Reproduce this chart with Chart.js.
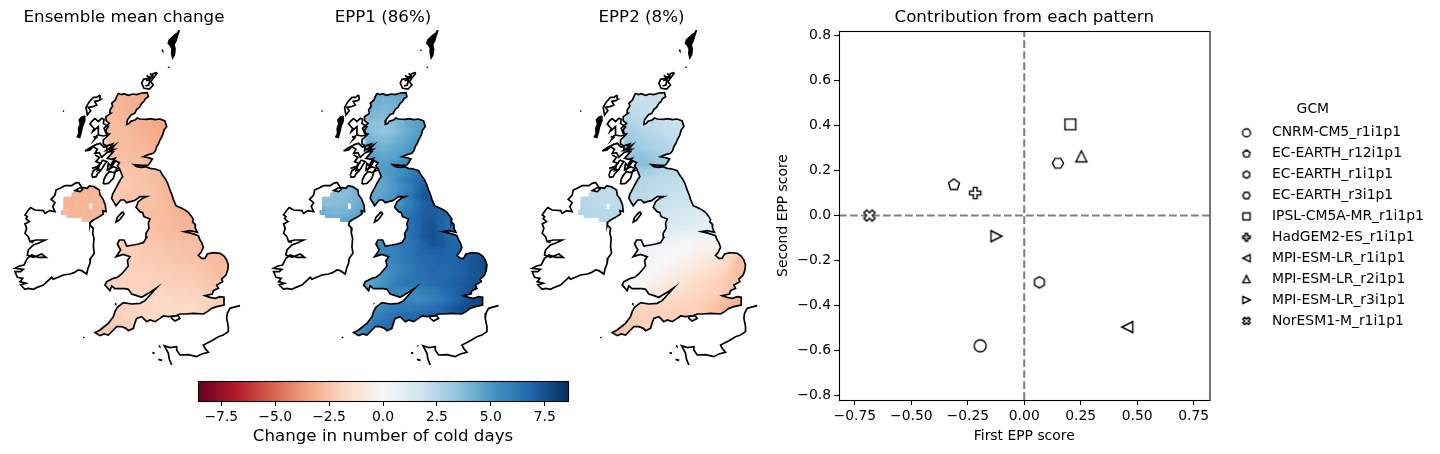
<!DOCTYPE html>
<html>
<head>
<meta charset="utf-8">
<title>Cold days EPP</title>
<script src="https://cdn.jsdelivr.net/npm/chart.js@4/dist/chart.umd.js"></script>
<style>
html, body { margin: 0; padding: 0; background: #fff; overflow: hidden; }
#page { position: relative; width: 1440px; height: 454px; overflow: hidden; }
canvas { position: absolute; }
</style>
</head>
<body>
<div id="page">
<canvas id="map1" style="left:0;top:0" width="248" height="370"></canvas>
<canvas id="map2" style="left:258px;top:0" width="250" height="370"></canvas>
<canvas id="map3" style="left:516px;top:0" width="251" height="370"></canvas>
<canvas id="cbar" style="left:180px;top:370px" width="410" height="84"></canvas>
<canvas id="scores" style="left:770px;top:0" width="670" height="454"></canvas>
</div>
<script>
// scatter values
const gcm_names = ["CNRM-CM5_r1i1p1", "EC-EARTH_r12i1p1", "EC-EARTH_r1i1p1", "EC-EARTH_r3i1p1", "IPSL-CM5A-MR_r1i1p1",
    "HadGEM2-ES_r1i1p1", "MPI-ESM-LR_r1i1p1", "MPI-ESM-LR_r2i1p1", "MPI-ESM-LR_r3i1p1", "NorESM1-M_r1i1p1"]
const first_score = [-0.195, -0.311, 0.067, 0.149, 0.204, -0.217, 0.456, 0.253, -0.123, -0.685]
const second_score = [-0.579, 0.137, -0.297, 0.232, 0.405, 0.100, -0.496, 0.263, -0.092, 0.000]
const gcm_markers = ["o", "p", "h", "H", "s", "P", "<", "^", ">", "X"]

const x_ticks = [-0.75, -0.5, -0.25, 0, 0.25, 0.5, 0.75]
const y_ticks = [-0.8, -0.6, -0.4, -0.2, 0, 0.2, 0.4, 0.6, 0.8]
const cbar_ticks = [-7.5, -5, -2.5, 0, 2.5, 5, 7.5]

const map_titles = ["Ensemble mean change", "EPP1 (86%)", "EPP2 (8%)"]
const rdbu_colors = ["#67001f", "#b2182b", "#d6604d", "#f4a582", "#fddbc7", "#f7f7f7", "#d1e5f0", "#92c5de", "#4393c3", "#2166ac", "#053061"]

// grid index of the first land column in each grid row of Great Britain
const gb_first_col = [7,6,6,6,6,6,6,5,6,6,7,6,6,6,7,9,10,11,10,7,7,8,7,6,5,9,8,7,6,5,4]

const mean_gb = [
[-3.0,-3.0,-3.1,-3.2,-3.2],
[-2.9,-2.9,-3.0,-3.1,-3.2],
[-2.8,-2.9,-3.0,-3.1],
[-2.8,-2.8,-2.9,-3.0,-3.1,-3.2,-3.3,-3.3],
[-2.7,-2.7,-2.8,-3.0,-3.1,-3.2,-3.3,-3.4],
[-2.7,-2.7,-2.7,-2.9,-3.0,-3.1,-3.2],
[-2.6,-2.7,-2.7,-2.8,-2.9,-3.0,-3.1],
[-2.6,-2.6,-2.6,-2.7,-2.8,-2.8,-2.9,-3.0],
[-2.6,-2.6,-2.6,-2.7,-2.7,-2.8],
[-2.5,-2.5,-2.5,-2.6,-2.7,-2.8],
[-2.3,-2.4,-2.4,-2.5,-2.6,-2.7],
[-2.3,-2.3,-2.3,-2.4,-2.5,-2.6,-2.7,-2.8],
[-2.3,-2.3,-2.3,-2.4,-2.4,-2.5,-2.7,-2.9],
[-2.3,-2.3,-2.4,-2.4,-2.4,-2.5,-2.6,-2.8,-3.0],
[-2.3,-2.3,-2.4,-2.5,-2.5,-2.6,-2.8,-3.0,-3.1],
[-2.5,-2.5,-2.6,-2.7,-2.8,-3.0,-3.1,-3.1],
[-2.5,-2.6,-2.6,-2.7,-2.8,-2.9,-3.0,-3.0],
[-2.5,-2.6,-2.7,-2.8,-2.9,-2.9,-2.9],
[-2.4,-2.5,-2.5,-2.6,-2.7,-2.8,-2.8,-2.8],
[-2.1,-2.1,-2.2,-2.3,-2.4,-2.4,-2.5,-2.5,-2.6,-2.6,-2.7],
[-2.0,-2.1,-2.1,-2.2,-2.3,-2.3,-2.4,-2.4,-2.5,-2.5,-2.6,-2.7,-2.8,-2.8],
[-2.1,-2.1,-2.2,-2.2,-2.3,-2.3,-2.4,-2.4,-2.5,-2.5,-2.6,-2.7,-2.8],
[-2.0,-2.0,-2.0,-2.1,-2.1,-2.2,-2.2,-2.2,-2.3,-2.3,-2.4,-2.5,-2.6,-2.7],
[-2.0,-2.0,-2.0,-2.0,-2.0,-2.0,-2.1,-2.1,-2.2,-2.2,-2.2,-2.3,-2.4,-2.5,-2.6],
[-2.0,-2.0,-1.9,-1.9,-1.9,-1.9,-2.0,-2.0,-2.0,-2.1,-2.1,-2.1,-2.2,-2.3,-2.4],
[-1.9,-1.9,-1.9,-1.8,-1.9,-1.9,-1.9,-2.0,-2.0,-2.1,-2.2,-2.3],
[-1.9,-1.9,-1.8,-1.8,-1.7,-1.7,-1.8,-1.8,-1.8,-1.9,-1.9,-2.0,-2.2],
[-2.0,-1.9,-1.9,-1.8,-1.8,-1.7,-1.7,-1.7,-1.7,-1.7,-1.8,-1.9,-2.0],
[-2.1,-2.0,-1.9,-1.9,-1.8,-1.8,-1.8,-1.7,-1.7],
[-2.3,-2.2,-2.1,-2.0,-1.9],
[-2.5,-2.4,-2.2,-2.1,-2.0]]

const epp1_gb = [
[4.4,4.3,4.4,4.6,4.7],
[4.5,4.2,4.1,4.2,4.4],
[4.3,4.0,3.9,4.1],
[3.9,3.8,3.8,4.0,4.3,4.5,4.7,4.9],
[3.6,3.5,3.5,3.7,4.1,4.5,4.7,4.9],
[3.8,3.5,3.4,3.6,4.0,4.4,4.7],
[4.1,3.8,3.8,4.0,4.3,4.6,4.9],
[4.5,4.3,4.2,4.2,4.4,4.6,4.9,5.1],
[4.7,4.6,4.5,4.6,4.8,5.0],
[4.7,4.7,4.8,5.0,5.2,5.4],
[4.7,4.8,5.0,5.3,5.8,6.2],
[4.5,4.5,4.7,5.0,5.6,6.1,6.6,6.9],
[4.5,4.4,4.6,4.9,5.4,6.0,6.6,7.2],
[4.4,4.5,4.7,5.0,5.6,6.2,6.8,7.4,7.2],
[4.7,4.8,5.0,5.2,5.9,6.5,7.1,7.3,7.0],
[5.4,5.8,6.2,6.8,7.2,7.2,7.0,6.8],
[6.0,6.4,6.8,7.2,7.3,7.0,6.7,6.5],
[6.4,6.8,7.3,7.4,7.0,6.7,6.6],
[6.2,6.4,6.8,7.3,7.5,7.2,6.8,6.6],
[5.6,5.6,5.8,6.1,6.3,6.6,7.0,7.4,7.3,6.9,6.8],
[5.4,5.6,5.7,6.0,6.3,6.6,6.9,7.0,7.0,6.9,6.9,7.0,7.2,7.4],
[5.6,5.7,6.0,6.3,6.5,6.7,6.8,6.9,6.9,6.9,7.1,7.4,7.6],
[5.2,5.3,5.5,5.8,6.1,6.4,6.6,6.7,6.7,6.8,6.9,7.1,7.4,7.6],
[4.6,4.8,5.1,5.5,5.9,6.2,6.4,6.6,6.7,6.7,6.8,6.9,7.1,7.4,7.5],
[4.5,4.6,4.9,5.3,5.8,6.1,6.2,6.2,6.4,6.6,6.7,6.9,7.1,7.3,7.5],
[5.8,5.7,5.4,5.6,6.0,6.1,6.4,6.7,7.0,7.3,7.6,7.8],
[5.6,5.7,5.8,5.7,5.5,5.6,5.9,6.2,6.6,7.0,7.4,7.7,7.9],
[5.4,5.6,5.9,6.1,6.1,6.2,6.3,6.5,6.7,7.1,7.4,7.7,7.9],
[5.6,5.8,6.1,6.3,6.6,6.7,6.8,7.0,7.2],
[5.5,5.8,6.2,6.5,6.7],
[4.9,5.5,6.0,6.3,6.5]]

const epp2_gb = [
[1.9,1.9,2.0,2.0,2.0],
[2.0,2.0,2.0,2.0,2.0],
[2.2,2.2,2.1,2.0],
[2.5,2.3,2.2,2.1,2.0,2.0,1.9,1.8],
[2.7,2.5,2.3,2.2,2.1,2.0,1.9,1.8],
[3.0,2.8,2.6,2.4,2.3,2.1,2.0],
[3.3,3.0,2.8,2.7,2.5,2.4,2.2],
[3.6,3.4,3.2,3.0,2.8,2.7,2.5,2.3],
[3.4,3.5,3.5,3.2,3.0,2.8],
[3.2,3.5,3.7,3.5,3.1,2.7],
[2.9,3.0,2.9,2.6,2.4,2.3],
[2.5,2.5,2.5,2.4,2.3,2.3,2.2,2.1],
[2.4,2.4,2.4,2.3,2.2,2.1,2.1,2.0],
[2.4,2.4,2.3,2.2,2.1,2.0,1.9,1.8,1.7],
[2.2,2.2,2.1,2.0,1.9,1.8,1.7,1.6,1.5],
[1.9,1.8,1.7,1.6,1.5,1.4,1.3,1.2],
[1.6,1.5,1.4,1.3,1.2,1.1,1.0,0.9],
[1.2,1.1,1.0,0.9,0.8,0.7,0.6],
[0.9,0.8,0.7,0.6,0.5,0.4,0.3,0.2],
[0.4,0.3,0.3,0.3,0.2,0.2,0.1,0.0,-0.2,-0.2,-0.3],
[0.3,0.3,0.2,0.2,0.1,0.0,-0.1,-0.2,-0.4,-0.5,-0.7,-1.0,-1.6,-2.0],
[0.2,0.2,0.1,0.0,-0.2,-0.3,-0.5,-0.7,-0.9,-1.1,-1.6,-2.1,-2.5],
[0.3,0.2,0.1,0.0,-0.2,-0.4,-0.6,-0.8,-1.0,-1.2,-1.5,-1.7,-2.3,-2.7],
[0.3,0.2,0.1,-0.1,-0.3,-0.5,-0.8,-1.0,-1.2,-1.4,-1.6,-1.8,-2.1,-2.4,-2.6],
[0.2,0.1,0.0,-0.2,-0.4,-0.6,-0.9,-1.1,-1.3,-1.5,-1.7,-1.9,-2.0,-2.2,-2.4],
[-0.9,-1.0,-1.1,-1.3,-1.5,-1.7,-1.8,-1.9,-2.0,-2.2,-2.5,-2.7],
[-1.4,-1.5,-1.6,-1.7,-1.8,-1.8,-1.9,-2.0,-2.1,-2.3,-2.5,-2.8,-3.0],
[-1.9,-1.9,-1.9,-1.9,-1.9,-1.9,-2.0,-2.0,-2.1,-2.3,-2.5,-2.8,-3.0],
[-2.2,-2.1,-2.0,-2.0,-2.0,-2.0,-2.0,-2.1,-2.1],
[-2.5,-2.3,-2.2,-2.1,-2.0],
[-2.7,-2.5,-2.3,-2.2,-2.1]]

// Northern Ireland, grid rows 12 to 16, columns 0 to 5
const mean_ni = [[-2.9,-2.9,-2.9,-2.9,-2.9,-2.9],[-3.0,-3.0,-2.9,-2.9,-2.8,-2.8],[-3.0,-3.0,-2.9,-2.9,-2.8,-2.8],[-2.9,-2.9,-2.9,-2.8,-2.8,-2.7],[-2.9,-2.9,-2.8,-2.8,-2.7,-2.7]]
const epp1_ni = [[3.7,3.7,3.7,3.7,3.9,4.1],[3.5,3.5,3.6,3.7,3.9,4.2],[3.8,3.6,3.7,3.8,4.0,4.3],[4.3,4.0,3.9,4.0,4.3,4.6],[4.4,4.4,4.4,4.5,4.6,4.7]]
const epp2_ni = [[2.4,2.4,2.3,2.2,2.2,2.2],[2.4,2.4,2.3,2.2,2.2,2.2],[2.5,2.4,2.3,2.2,2.2,2.3],[2.6,2.5,2.4,2.3,2.3,2.3],[2.6,2.5,2.4,2.4,2.3,2.3]]

// coastlines in map units (one unit is a third of a pixel, panel 1 frame)
const coast_gb = [[355,220],[364,224],[372,221],[385,226],[398,222],[410,224],[425,219],[442,218],[445,230],[436,236],[432,244],[425,250],[418,262],[410,268],[404,280],[394,284],[388,292],[382,300],[380,313],[388,310],[392,304],[405,300],[412,294],[420,297],[440,298],[452,296],[465,299],[480,297],[495,303],[500,320],[492,330],[488,345],[480,360],[475,372],[470,380],[466,392],[460,400],[445,404],[430,410],[445,413],[457,417],[450,428],[445,435],[425,436],[402,434],[410,440],[425,442],[438,440],[450,445],[465,447],[480,452],[488,466],[497,478],[503,490],[510,510],[516,525],[520,538],[528,557],[545,565],[555,570],[565,577],[575,590],[580,598],[578,606],[585,612],[586,625],[592,637],[570,632],[553,635],[575,640],[595,647],[600,660],[605,668],[610,682],[603,697],[595,706],[605,715],[615,715],[622,702],[640,698],[660,700],[672,708],[680,720],[685,735],[683,750],[678,765],[665,777],[668,785],[650,795],[655,805],[640,812],[637,822],[615,827],[630,832],[645,835],[660,830],[672,832],[672,855],[650,860],[635,865],[622,875],[610,882],[580,880],[555,882],[540,882],[525,888],[505,890],[490,888],[480,895],[465,905],[450,900],[440,905],[425,890],[410,895],[405,908],[400,925],[385,932],[378,925],[365,920],[350,920],[340,930],[325,945],[312,942],[300,947],[285,938],[300,930],[315,918],[325,910],[340,890],[345,875],[352,862],[370,848],[395,852],[420,850],[435,842],[450,825],[470,803],[445,820],[425,832],[408,826],[395,822],[385,808],[375,806],[345,806],[335,798],[330,812],[315,795],[320,785],[340,775],[352,772],[365,762],[375,750],[385,738],[382,722],[390,710],[370,703],[348,710],[362,690],[352,672],[358,660],[372,660],[380,678],[400,675],[415,672],[430,668],[440,652],[438,640],[447,625],[445,610],[450,597],[432,590],[428,578],[420,575],[408,562],[415,545],[428,535],[440,530],[420,530],[403,542],[390,545],[380,548],[372,540],[362,540],[348,557],[335,535],[338,522],[342,515],[350,500],[355,490],[362,478],[368,470],[358,445],[352,438],[358,428],[345,422],[330,445],[335,430],[345,415],[335,418],[322,415],[340,395],[328,395],[345,375],[318,392],[320,378],[310,372],[310,360],[328,342],[318,340],[312,325],[328,310],[318,302],[318,290],[332,280],[330,270],[338,258],[335,250],[346,240],[350,230],[355,220]]
const coast_ireland = [[235,487],[242,497],[248,508],[240,515],[225,512],[238,504],[250,503],[262,505],[268,498],[282,500],[298,510],[300,525],[308,535],[312,545],[316,555],[318,575],[308,572],[310,582],[295,592],[280,600],[272,606],[270,615],[280,625],[278,640],[282,655],[280,680],[283,700],[272,715],[270,730],[264,745],[260,762],[245,752],[235,750],[222,758],[210,762],[190,765],[160,778],[155,772],[130,795],[112,802],[100,808],[85,805],[75,808],[62,795],[78,790],[60,785],[68,775],[52,772],[45,755],[62,755],[70,748],[45,745],[58,738],[72,735],[82,715],[95,705],[115,712],[138,712],[125,702],[100,712],[82,705],[85,690],[100,675],[118,668],[135,660],[108,660],[90,665],[85,650],[75,640],[80,625],[75,612],[88,605],[78,596],[82,590],[75,585],[85,570],[92,563],[105,570],[130,572],[135,580],[148,572],[165,575],[158,560],[165,548],[153,538],[165,525],[168,510],[180,505],[195,497],[215,497],[225,490],[235,487]]
const coast_france = [[720,857],[700,862],[690,865],[682,880],[680,895],[685,920],[685,935],[670,945],[655,950],[635,962],[610,975],[615,985],[625,997],[605,1002],[590,1010],[565,1004],[540,1005],[530,990],[530,980],[510,983],[493,977],[500,990],[505,1000],[508,1018],[515,1035]]
const coast_wight = [[515,888],[535,888],[540,895],[525,903],[515,895],[515,888]]
const coast_man = [[368,575],[372,582],[358,600],[348,606],[352,592],[368,575]]
const coast_lewis = [[300,225],[290,232],[280,232],[268,245],[258,262],[262,285],[272,272],[265,262],[278,260],[290,255],[284,244],[296,242],[302,238],[300,225]]
const coast_mull_a = [[285,375],[300,370],[312,382],[325,376],[338,372],[328,388],[342,388],[320,398],[305,412],[298,398],[285,400],[292,388],[280,380],[285,375]]
const coast_skye = [[285,295],[275,305],[270,312],[282,325],[278,335],[295,320],[295,345],[310,348],[322,345],[318,330],[325,320],[310,310],[312,298],[305,295],[295,305],[285,295]]
const coast_coll = [[255,393],[270,383],[282,377],[270,390],[255,393]]
const coast_jura = [[308,420],[320,425],[312,436],[305,448],[292,452],[298,436],[308,420]]
const coast_islay = [[275,465],[280,452],[292,445],[302,452],[292,462],[288,470],[278,472],[275,465]]
const coast_kintyre = [[310,492],[312,478],[318,466],[328,455],[345,458],[340,475],[325,490],[310,492]]
const coast_clyde = [[345,425],[335,440],[325,430],[322,450],[340,440],[352,445],[345,455],[358,450]]
const coast_lorn = [[285,405],[298,412],[288,425],[302,430],[292,440],[276,445]]
const coast_small = [[280,350],[290,352],[284,358],[292,345]]
const coast_orkney = [[472,158],[462,160],[455,165],[458,172],[445,175],[430,178],[425,190],[432,205],[448,207],[460,195],[452,185],[462,172],[472,158]]
const coast_orkney_b = [[438,182],[450,178],[446,195],[436,198]]
const coast_orkney_c = [[450,160],[458,168],[446,172],[440,166],[452,176]]
const coast_dots = [[[486,89],[488,92]],[[505,140],[507,143]],[[189,272],[192,274]],[[250,951],[253,954]],[[345,850],[347,852]],[[477,977],[479,979]],[[457,998],[464,1000]],[[475,1018],[486,1021]],[[92,665],[100,667]]]
const all_coasts = [coast_gb, coast_ireland, coast_france, coast_wight, coast_man, coast_lewis, coast_mull_a, coast_skye, coast_coll, coast_jura, coast_islay, coast_kintyre, coast_clyde, coast_lorn, coast_small, coast_orkney, coast_orkney_b, coast_orkney_c].concat(coast_dots)

// islands too small to show anything but black
const solid_shetland = [[538,30],[532,40],[525,44],[514,54],[508,60],[505,70],[511,76],[516,86],[515,100],[518,113],[523,104],[525,88],[522,74],[528,62],[532,48],[538,30]]
const solid_uist = [[254,288],[244,292],[238,300],[241,312],[236,325],[237,340],[232,350],[239,352],[244,335],[247,320],[254,302],[254,288]]
const all_solids = [solid_shetland, solid_uist]

// blocky edge of the Northern Ireland data, and the one missing cell in it
const ni_edge = [[190,530],[215,530],[215,518],[240,515],[250,503],[268,498],[282,500],[298,510],[300,525],[312,545],[318,575],[310,582],[295,592],[280,600],[272,606],[245,606],[245,593],[200,593],[200,585],[183,585],[183,570],[190,570],[190,530]]
const ni_hole = [[268,550],[277,550],[277,568],[268,568],[268,550]]

const black = "#000"
const font_name = "'DejaVu Sans'"

function rdbu(value){
    var t = (value + 8.58) / 17.16 * 10
    var i = Math.min(9, Math.floor(t))
    var a = rdbu_colors[i], b = rdbu_colors[i+1]
    var out = []
    for (var k = 1; k < 7; k += 2){
        var ca = parseInt(a.substr(k, 2), 16), cb = parseInt(b.substr(k, 2), 16)
        out.push(Math.round(ca + (cb - ca) * (t - i)))
    }
    return "rgb(" + out.join(",") + ")"
}

function line_points(pairs){
    return pairs.map(p => ({x: p[0], y: p[1]}))
}

function cell_points(rows, first_row, first_cols){
    var pts = []
    rows.forEach((row, r) => {
        row.forEach((v, c) => {
            pts.push({x: 180 + 24 * (first_cols[r] + c) + 12, y: 210 + 24 * (first_row + r) + 12, v: v})
        })
    })
    return pts
}

const cell_clip = {
    id: "cell_clip",
    beforeDatasetDraw(chart, args){
        if (!chart.data.datasets[args.index].is_cells) return
        var sx = chart.scales.x, sy = chart.scales.y, c = chart.ctx
        c.save()
        c.beginPath()
        ;[coast_gb, ni_edge, ni_hole].forEach(poly => {
            poly.forEach((p, i) => {
                if (i == 0) c.moveTo(sx.getPixelForValue(p[0]), sy.getPixelForValue(p[1]))
                else c.lineTo(sx.getPixelForValue(p[0]), sy.getPixelForValue(p[1]))
            })
            c.closePath()
        })
        c.clip("evenodd")
        // the source grid is finer than ours, so soften the block edges
        c.filter = "blur(1.6px)"
    },
    afterDatasetDraw(chart, args){
        if (chart.data.datasets[args.index].is_cells) chart.ctx.restore()
    }
}

function draw_map(element, title, gb_rows, ni_rows, x_min, x_max){
    var datasets = all_solids.map(pairs => ({
        data: line_points(pairs), showLine: true, pointRadius: 0, borderColor: black, borderWidth: 1.7, tension: 0,
        fill: "shape", backgroundColor: black
    }))
    all_coasts.forEach(pairs => datasets.push({
        data: line_points(pairs), showLine: true, pointRadius: 0, borderColor: black, borderWidth: 1.7, tension: 0
    }))
    var cells = cell_points(gb_rows, 0, gb_first_col).concat(cell_points(ni_rows, 12, [0, 0, 0, 0, 0]))
    datasets.push({
        is_cells: true,
        data: cells,
        showLine: false,
        pointStyle: "rect",
        pointRadius: 8.2,
        pointBorderWidth: 0,
        pointBackgroundColor: cells.map(p => rdbu(p.v))
    })
    new Chart(document.getElementById(element), {
        type: "scatter",
        data: {datasets: datasets},
        plugins: [cell_clip],
        options: {
            responsive: false,
            animation: false,
            events: [],
            layout: {padding: 0, autoPadding: false},
            scales: {
                x: {display: false, min: x_min, max: x_max, bounds: "data"},
                y: {display: false, min: 30, max: 1050, reverse: true, bounds: "data"}
            },
            plugins: {
                legend: {display: false},
                tooltip: {enabled: false},
                title: {
                    display: true, text: title, color: black,
                    font: {family: font_name, size: 16.67, weight: "normal", lineHeight: 1.2},
                    padding: {top: 8, bottom: 2}
                }
            }
        }
    })
}

draw_map("map1", map_titles[0], mean_gb, mean_ni, 0, 744)
draw_map("map2", map_titles[1], epp1_gb, epp1_ni, -1.8, 748.2)
draw_map("map3", map_titles[2], epp2_gb, epp2_ni, -3.6, 749.4)

const frame = {
    id: "frame",
    afterDatasetsDraw(chart){
        var a = chart.chartArea, c = chart.ctx
        c.save()
        c.strokeStyle = black
        c.lineWidth = 1.1
        c.strokeRect(a.left + 0.5, a.top + 0.5, a.right - a.left, a.bottom - a.top)
        c.restore()
    }
}

function minus_sign(value, places){
    return value.toFixed(places).replace("-", "\u2212")
}

function axis_ticks(values){
    return function(scale){
        scale.ticks = values.map(v => ({value: v}))
    }
}

// colour bar
new Chart(document.getElementById("cbar"), {
    type: "bar",
    data: {
        labels: [""],
        datasets: [{
            data: [[-8.58, 8.58]],
            barPercentage: 1,
            categoryPercentage: 1,
            backgroundColor: function(c){
                var a = c.chart.chartArea
                if (!a) return "#fff"
                var g = c.chart.ctx.createLinearGradient(a.left, 0, a.right, 0)
                rdbu_colors.forEach((col, i) => g.addColorStop(i / 10, col))
                return g
            }
        }]
    },
    plugins: [frame],
    options: {
        indexAxis: "y",
        responsive: false,
        animation: false,
        events: [],
        layout: {padding: {left: 18, right: 22, top: 11, bottom: 0}, autoPadding: false},
        scales: {
            x: {
                min: -8.58, max: 8.58, bounds: "data",
                afterFit: function(s){ s.height = 53 },
                afterBuildTicks: axis_ticks(cbar_ticks),
                border: {display: false},
                grid: {drawOnChartArea: false, tickLength: 5, tickColor: black, tickWidth: 1.1},
                ticks: {
                    autoSkip: false, color: black, maxRotation: 0, padding: 3,
                    font: {family: font_name, size: 13.9},
                    callback: v => minus_sign(v, 1)
                },
                title: {
                    display: true, text: "Change in number of cold days", color: black, padding: {top: 2, bottom: 7},
                    font: {family: font_name, size: 16.67}
                }
            },
            y: {display: false}
        },
        plugins: {legend: {display: false}, tooltip: {enabled: false}}
    }
})

// markers for the scatter panel, drawn once on small canvases
function regular_poly(n, start){
    var pts = []
    for (var i = 0; i < n; i++){
        var a = start + i * 2 * Math.PI / n
        pts.push([Math.cos(a), Math.sin(a)])
    }
    return pts
}

const marker_shapes = {
    p: regular_poly(5, -Math.PI / 2),
    h: regular_poly(6, -Math.PI / 2),
    H: regular_poly(6, 0),
    s: [[-1,-1],[1,-1],[1,1],[-1,1]],
    P: [[-0.33,-1],[0.33,-1],[0.33,-0.33],[1,-0.33],[1,0.33],[0.33,0.33],[0.33,1],[-0.33,1],[-0.33,0.33],[-1,0.33],[-1,-0.33],[-0.33,-0.33]],
    "<": [[-1,0],[1,-1],[1,1]],
    "^": [[0,-1],[1,1],[-1,1]],
    ">": [[1,0],[-1,-1],[-1,1]],
    X: [[-0.5,-1],[0,-0.5],[0.5,-1],[1,-0.5],[0.5,0],[1,0.5],[0.5,1],[0,0.5],[-0.5,1],[-1,0.5],[-0.5,0],[-1,-0.5]]
}
const marker_radius = {o: 6, p: 5.8, h: 5.6, H: 5.6, s: 5.4, P: 5.6, "<": 5.5, "^": 5.5, ">": 5.5, X: 5.6}

function make_marker(kind, scale){
    var m = document.createElement("canvas")
    m.width = 18
    m.height = 18
    var c = m.getContext("2d")
    var r = marker_radius[kind] * scale
    c.fillStyle = "#fff"
    c.strokeStyle = black
    c.lineWidth = 1.4
    c.beginPath()
    if (kind == "o"){
        c.arc(9, 9, r, 0, 2 * Math.PI)
    } else {
        marker_shapes[kind].forEach((p, i) => {
            if (i == 0) c.moveTo(9 + p[0] * r, 9 + p[1] * r)
            else c.lineTo(9 + p[0] * r, 9 + p[1] * r)
        })
        c.closePath()
    }
    c.fill()
    c.stroke()
    return m
}

const legend_icons = gcm_markers.map(k => make_marker(k, 0.66))

var score_sets = gcm_names.map((name, i) => ({
    label: name,
    data: [{x: first_score[i], y: second_score[i]}],
    pointStyle: make_marker(gcm_markers[i], 1),
    showLine: false
}))
score_sets.push({label: "zero x", data: [{x: -0.82, y: 0}, {x: 0.82, y: 0}], showLine: true, pointRadius: 0, borderColor: "#808080", borderWidth: 2.08, borderDash: [7.7, 3.3]})
score_sets.push({label: "zero y", data: [{x: 0, y: -0.82}, {x: 0, y: 0.82}], showLine: true, pointRadius: 0, borderColor: "#808080", borderWidth: 2.08, borderDash: [7.7, 3.3]})

// the legend sits a little off the plot, and its box is wider than Chart.js measures
const legend_shift = {
    id: "legend_shift",
    afterLayout(chart){
        var lg = chart.legend
        lg.left = 451
        lg.right = 670
        lg.width = 219
        lg.top += 3
        lg.bottom += 3
    }
}

new Chart(document.getElementById("scores"), {
    type: "scatter",
    data: {datasets: score_sets},
    plugins: [frame, legend_shift],
    options: {
        responsive: false,
        animation: false,
        events: [],
        layout: {padding: {left: 0, right: 84, top: 0, bottom: 0}, autoPadding: false},
        scales: {
            x: {
                min: -0.82, max: 0.82, bounds: "data",
                afterFit: function(s){ s.height = 54 },
                afterBuildTicks: axis_ticks(x_ticks),
                border: {display: false},
                grid: {drawOnChartArea: false, tickLength: 5, tickColor: black, tickWidth: 1.1},
                ticks: {
                    autoSkip: false, color: black, maxRotation: 0, padding: 3,
                    font: {family: font_name, size: 13.9},
                    callback: v => minus_sign(v, 2)
                },
                title: {display: true, text: "First EPP score", color: black, padding: {top: 3, bottom: 9}, font: {family: font_name, size: 13.9}}
            },
            y: {
                min: -0.82, max: 0.82, bounds: "data",
                afterFit: function(s){ s.width = 69 },
                afterBuildTicks: axis_ticks(y_ticks),
                border: {display: false},
                grid: {drawOnChartArea: false, tickLength: 5, tickColor: black, tickWidth: 1.1},
                ticks: {
                    autoSkip: false, color: black, padding: 3,
                    font: {family: font_name, size: 13.9},
                    callback: v => minus_sign(v, 1)
                },
                title: {display: true, text: "Second EPP score", color: black, padding: {top: 5, bottom: 3}, font: {family: font_name, size: 13.9}}
            }
        },
        plugins: {
            tooltip: {enabled: false},
            title: {
                display: true, text: "Contribution from each pattern", color: black, fullSize: false,
                font: {family: font_name, size: 16.67, weight: "normal", lineHeight: 1.2},
                padding: {top: 8, bottom: 3}
            },
            legend: {
                position: "right",
                fullSize: false,
                title: {display: true, text: "GCM\u00a0\u00a0\u00a0\u00a0\u00a0\u00a0\u00a0\u00a0", color: black, font: {family: font_name, size: 13.9}, padding: {top: 0, bottom: 0}},
                labels: {
                    usePointStyle: true,
                    pointStyleWidth: 37,
                    padding: 7,
                    color: black,
                    font: {family: font_name, size: 13.9},
                    generateLabels: function(chart){
                        return gcm_names.map((name, i) => ({text: name, pointStyle: legend_icons[i], datasetIndex: i, hidden: false, fontColor: black}))
                    }
                }
            }
        }
    }
})
</script>
</body>
</html>
